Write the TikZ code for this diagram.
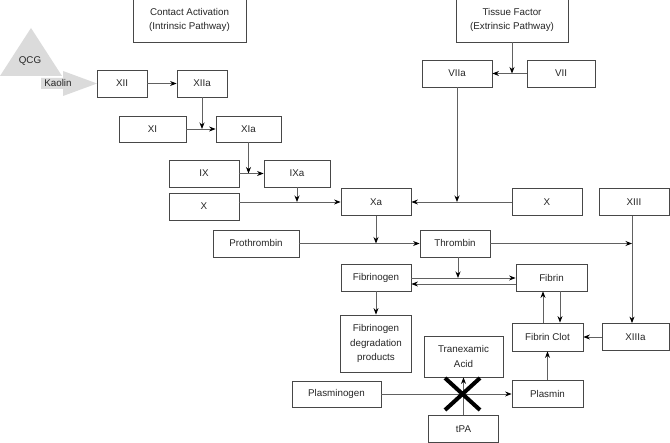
\documentclass[tikz,border=0pt]{standalone}
\usepackage{fontspec}
\setmainfont{Liberation Sans}
\usetikzlibrary{arrows.meta}
\begin{document}
\begin{tikzpicture}[x=1pt,y=-1pt,
  box/.style={draw=black!72,line width=0.8pt,inner sep=0pt,align=center,text=black!85,
    font=\fontsize{9.8}{14.5}\selectfont},
  conn/.style={draw=black!62,line width=0.8pt,-{Stealth[length=6.5pt,width=5pt,black]}},
  lbl/.style={inner sep=0pt,text=black!85,font=\fontsize{9.8}{12}\selectfont},
  shade/.style={fill=black!14,draw=none}]
\useasboundingbox (0,0) rectangle (670,443);
\fill[white] (0,0) rectangle (670,443);
% grey source shapes
\fill[shade] (0,76) -- (31,28) -- (62,76) -- cycle;
\fill[shade] (41,78) -- (63,78) -- (63,71) -- (97,83.5) -- (63,96) -- (63,89) -- (41,89) -- cycle;
\node[lbl] (qcg) at (30,61) {QCG};
\node[lbl] (kaolin) at (58,83.5) {Kaolin};
% boxes
\node[box,minimum width=113pt,minimum height=44pt] (contact) at (189.5,20) {Contact Activation\\(Intrinsic Pathway)};
\node[box,minimum width=112pt,minimum height=44pt] (tissue) at (512,20) {Tissue Factor\\(Extrinsic Pathway)};
\node[box,minimum width=50pt,minimum height=27pt] (XII) at (122,83.5) {XII};
\node[box,minimum width=50pt,minimum height=27pt] (XIIa) at (202,83.5) {XIIa};
\node[box,minimum width=67pt,minimum height=26pt] (XI) at (152.5,129) {XI};
\node[box,minimum width=65pt,minimum height=26pt] (XIa) at (248.5,129) {XIa};
\node[box,minimum width=70pt,minimum height=27pt] (IX) at (204,173.5) {IX};
\node[box,minimum width=66pt,minimum height=27pt] (IXa) at (297,173.5) {IXa};
\node[box,minimum width=70pt,minimum height=27pt] (Xl) at (204,206.5) {X};
\node[box,minimum width=70pt,minimum height=27pt] (Xa) at (376,202) {Xa};
\node[box,minimum width=70pt,minimum height=27pt] (Xr) at (547,202) {X};
\node[box,minimum width=70pt,minimum height=27pt] (XIII) at (634,202) {XIII};
\node[box,minimum width=70pt,minimum height=27pt] (VIIa) at (457,73.5) {VIIa};
\node[box,minimum width=68pt,minimum height=27pt] (VII) at (561,73.5) {VII};
\node[box,minimum width=86pt,minimum height=27pt] (prothrombin) at (256,243.5) {Prothrombin};
\node[box,minimum width=70pt,minimum height=27pt] (thrombin) at (455,243.5) {Thrombin};
\node[box,minimum width=70pt,minimum height=27pt] (fibrinogen) at (376,277.5) {Fibrinogen};
\node[box,minimum width=71pt,minimum height=27pt] (fibrin) at (551.5,277.5) {Fibrin};
\node[box,minimum width=71pt,minimum height=57pt] (fdp) at (376,343.5) {Fibrinogen\\degradation\\products};
\node[box,minimum width=79pt,minimum height=41pt] (txa) at (463.5,356.5) {Tranexamic\\Acid};
\node[box,minimum width=71pt,minimum height=28pt] (clot) at (547.5,337) {Fibrin Clot};
\node[box,minimum width=67pt,minimum height=27pt] (XIIIa) at (635.5,337) {XIIIa};
\node[box,minimum width=89pt,minimum height=26pt] (plasminogen) at (336.5,394) {Plasminogen};
\node[box,minimum width=71pt,minimum height=27pt] (plasmin) at (547.5,394) {Plasmin};
\node[box,minimum width=70pt,minimum height=27pt] (tpa) at (463.5,429) {tPA};
% junction coordinates
\coordinate (jXI) at (XIIa.south |- XIa.west);
\coordinate (jIX) at (XIa.south |- IXa.west);
\coordinate (jX) at (IXa.south |- Xa.west);
\coordinate (jXr) at (VIIa.south |- Xa.east);
\coordinate (jVII) at (tissue.south |- VIIa.east);
\coordinate (jTh) at (Xa.south |- thrombin.west);
\coordinate (jXIII) at (632,243.5);
\coordinate (fgA) at (fibrinogen.east |- 0,278);
\coordinate (fbA) at (fibrin.west |- 0,278);
\coordinate (fgB) at (fibrinogen.east |- 0,284);
\coordinate (fbB) at (fibrin.west |- 0,284);
\coordinate (jFb) at (458,278);
% connectors
\draw[conn] (XII) -- (XIIa);
\draw[conn] (XIIa.south) -- (jXI);
\draw[conn] (XI) -- (XIa);
\draw[conn] (XIa.south) -- (jIX);
\draw[conn] (IX) -- (IXa);
\draw[conn] (IXa.south) -- (jX);
\draw[conn] (Xl.east |- Xa.west) -- (Xa.west);
\draw[conn] (VIIa.south) -- (jXr);
\draw[conn] (Xr.west) -- (Xa.east);
\draw[conn] (tissue.south) -- (jVII);
\draw[conn] (VII.west) -- (VIIa.east);
\draw[conn] (Xa.south) -- (jTh);
\draw[conn] (prothrombin) -- (thrombin);
\draw[conn] (thrombin.east) -- (jXIII);
\draw[conn] (XIII.south -| jXIII) -- (XIIIa.north -| jXIII);
\draw[conn] (thrombin.south -| jFb) -- (jFb);
\draw[conn] (fgA) -- (fbA);
\draw[conn] (fbB) -- (fgB);
\draw[conn] (fibrinogen) -- (fdp);
\draw[conn] (clot.north -| 543,0) -- (fibrin.south -| 543,0);
\draw[conn] (fibrin.south -| 560,0) -- (clot.north -| 560,0);
\draw[conn] (XIIIa) -- (clot);
\draw[conn] (plasmin) -- (clot);
\draw[conn] (plasminogen) -- (plasmin);
\draw[conn] (tpa) -- (txa);
% blocking cross
\coordinate (crossA) at (445,378);
\coordinate (crossB) at (480,410);
\coordinate (crossC) at (480,378);
\coordinate (crossD) at (445,410);
\draw[line width=4pt,black] (crossA) -- (crossB) (crossC) -- (crossD);
\end{tikzpicture}
\end{document}
